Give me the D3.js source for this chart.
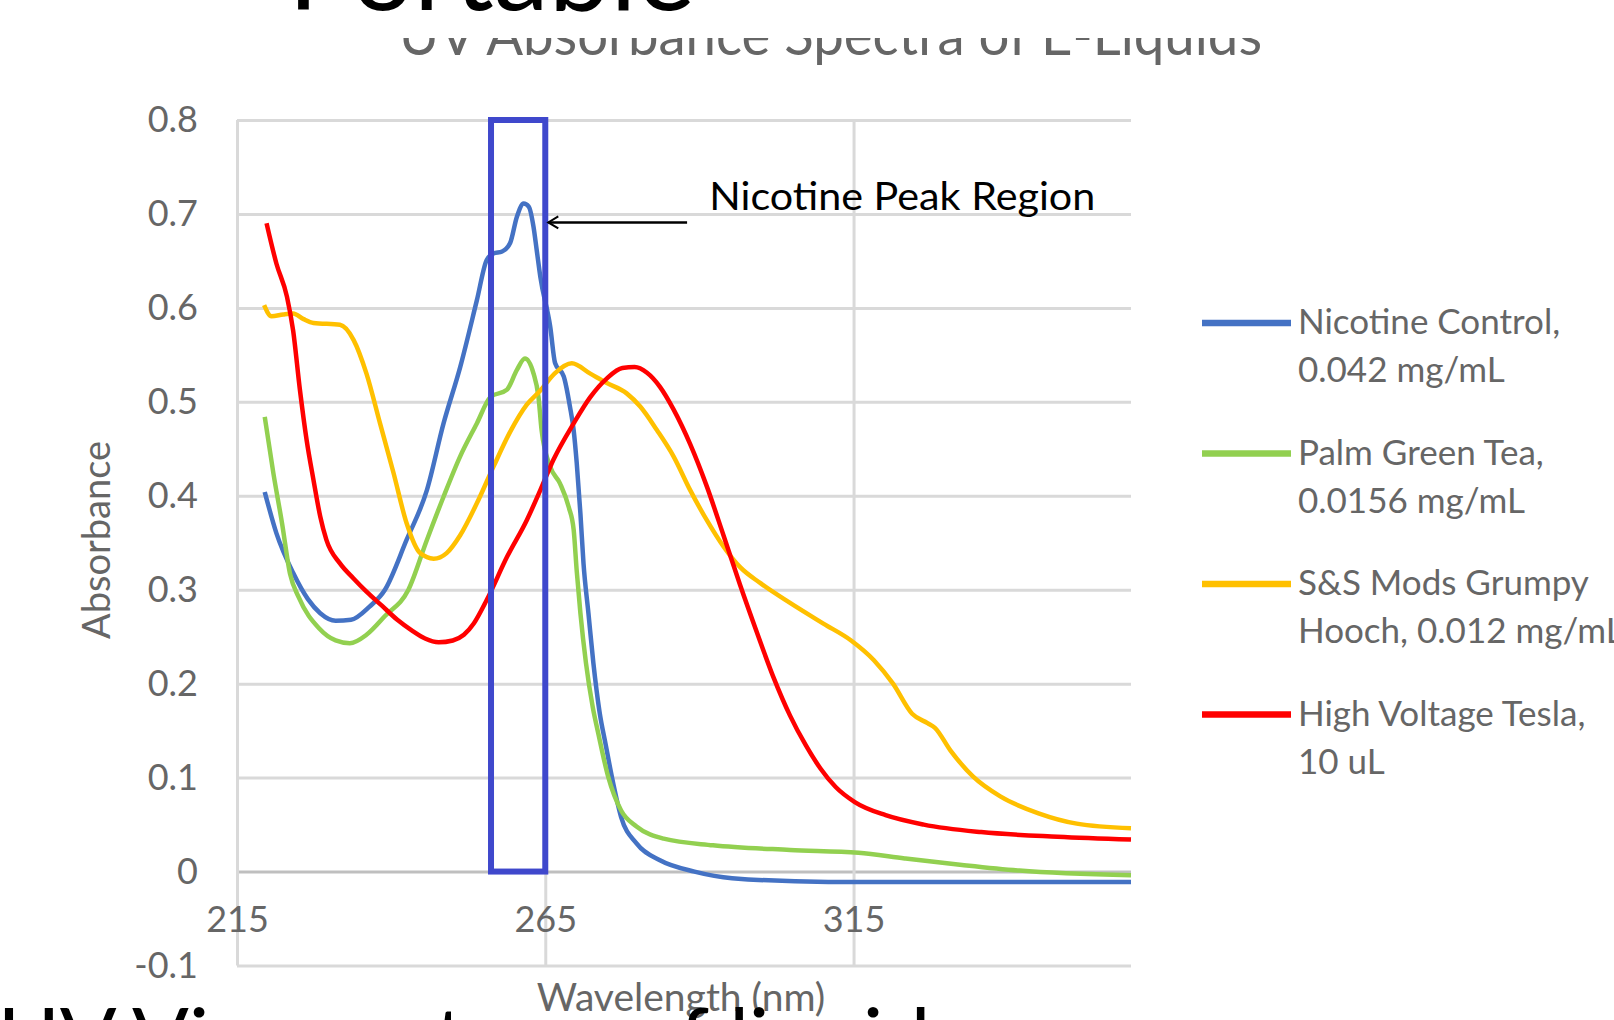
<!DOCTYPE html>
<html>
<head>
<meta charset="utf-8">
<script src="https://cdn.jsdelivr.net/npm/d3@7"></script>
<style>
  body { margin: 0; background: #fff; overflow: hidden; }
  svg { display: block; }
  text { font-family: Lato, "Open Sans", sans-serif; }
</style>
</head>
<body>
<svg id="chart" width="1614" height="1020"></svg>
<script>
// values: [wavelength nm, absorbance]
var nicotineControl = [
  [219.5, 0.404], [221.4, 0.360], [224.1, 0.318], [226.5, 0.290], [228.5, 0.275],
  [231.0, 0.267], [233.5, 0.268], [236.5, 0.282], [239.0, 0.300], [242.5, 0.353],
  [245.8, 0.406], [248.5, 0.477], [251.2, 0.537], [253.9, 0.608], [255.5, 0.651],
  [256.6, 0.658], [258.0, 0.660], [259.3, 0.669], [260.4, 0.697], [261.5, 0.711],
  [262.3, 0.708], [263.1, 0.686], [263.6, 0.662], [264.2, 0.633], [265.8, 0.580],
  [266.6, 0.541], [268.0, 0.527], [269.0, 0.495], [269.6, 0.470], [270.1, 0.435],
  [270.7, 0.381], [271.2, 0.328], [272.0, 0.275], [272.8, 0.222], [273.8, 0.170],
  [274.8, 0.135], [275.8, 0.101], [277.3, 0.058], [279.8, 0.030], [283.6, 0.012],
  [289.2, 0.000], [295.3, -0.007], [310.9, -0.011], [329.5, -0.011], [360.0, -0.011]
];
var palmGreenTea = [
  [219.5, 0.484], [220.9, 0.424], [222.3, 0.371], [223.6, 0.317], [225.0, 0.292],
  [228.3, 0.259], [231.0, 0.246], [233.3, 0.243], [236.0, 0.252], [239.0, 0.272],
  [242.8, 0.300], [245.8, 0.353], [248.5, 0.399], [251.2, 0.442], [253.9, 0.477],
  [256.1, 0.505], [258.8, 0.513], [260.4, 0.534], [261.7, 0.546], [263.1, 0.530],
  [263.9, 0.505], [264.4, 0.470], [265.8, 0.431], [267.4, 0.413], [268.8, 0.388],
  [269.6, 0.364], [270.1, 0.320], [270.7, 0.275], [271.6, 0.222], [272.7, 0.175],
  [273.6, 0.147], [275.2, 0.101], [277.3, 0.065], [279.8, 0.048], [284.2, 0.035],
  [292.2, 0.028], [304.7, 0.023], [315.8, 0.020], [323.3, 0.014], [332.6, 0.007],
  [341.9, 0.001], [360.0, -0.004]
];
var grumpyHooch = [
  [219.4, 0.603], [220.6, 0.591], [222.5, 0.593], [224.1, 0.594], [225.8, 0.588],
  [227.4, 0.584], [231.7, 0.582], [233.9, 0.566], [236.0, 0.530], [238.2, 0.477],
  [240.4, 0.424], [242.5, 0.371], [244.7, 0.339], [246.9, 0.333], [249.0, 0.339],
  [251.2, 0.358], [253.9, 0.392], [256.6, 0.431], [259.3, 0.468], [262.0, 0.497],
  [264.2, 0.512], [266.5, 0.530], [269.3, 0.541], [272.3, 0.530], [275.0, 0.520],
  [278.2, 0.509], [280.4, 0.495], [283.1, 0.470], [285.8, 0.442], [288.5, 0.406],
  [291.2, 0.374], [293.9, 0.346], [296.6, 0.324], [299.9, 0.307], [304.7, 0.286],
  [310.1, 0.264], [314.6, 0.246], [318.3, 0.225], [321.4, 0.200], [324.5, 0.168],
  [327.0, 0.158], [328.2, 0.153], [330.7, 0.129], [334.4, 0.101], [338.8, 0.080],
  [345.0, 0.062], [351.2, 0.051], [360.0, 0.046]
];
var highVoltageTesla = [
  [219.8, 0.690], [221.4, 0.647], [223.1, 0.612], [224.1, 0.576], [225.2, 0.513],
  [226.3, 0.459], [227.4, 0.417], [228.5, 0.378], [229.5, 0.353], [231.7, 0.328],
  [233.9, 0.312], [236.0, 0.298], [238.5, 0.283], [241.0, 0.268], [243.5, 0.256],
  [245.5, 0.248], [247.7, 0.244], [250.0, 0.246], [251.8, 0.252], [253.4, 0.264],
  [255.5, 0.289], [258.8, 0.335], [262.0, 0.374], [264.2, 0.406], [266.3, 0.438],
  [269.6, 0.477], [272.3, 0.505], [275.0, 0.525], [277.5, 0.536], [279.5, 0.537],
  [281.5, 0.531], [283.6, 0.516], [285.8, 0.492], [288.5, 0.455], [291.2, 0.410],
  [293.9, 0.358], [296.6, 0.305], [299.3, 0.255], [302.0, 0.207], [304.7, 0.166],
  [307.2, 0.135], [309.6, 0.110], [312.1, 0.090], [315.2, 0.074], [320.2, 0.060],
  [326.4, 0.050], [335.7, 0.042], [348.1, 0.037], [360.0, 0.034]
];

var seriesData = [nicotineControl, palmGreenTea, grumpyHooch, highVoltageTesla];
var seriesColors = ["#4472C4", "#92D050", "#FFC000", "#FF0000"];
var legendLabels = [
  ["Nicotine Control,", "0.042 mg/mL"],
  ["Palm Green Tea,", "0.0156 mg/mL"],
  ["S&S Mods Grumpy", "Hooch, 0.012 mg/mL"],
  ["High Voltage Tesla,", "10 uL"]
];
var xTicks = [215, 265, 315];
var yTicks = [-0.1, 0, 0.1, 0.2, 0.3, 0.4, 0.5, 0.6, 0.7, 0.8];
var yTickLabels = ["-0.1", "0", "0.1", "0.2", "0.3", "0.4", "0.5", "0.6", "0.7", "0.8"];
var peakRegion = [256.2, 265.0]; // boxed wavelength range

var svg = d3.select("#chart");

var x = d3.scaleLinear().domain([215, 360]).range([237, 1131]);
var y = d3.scaleLinear().domain([-0.1, 0.8]).range([965.5, 120]);
var plotW = x.range()[1] - x.range()[0];
var plotH = y.range()[0] - y.range()[1];

// horizontal grid + y labels
var gy = svg.append("g")
    .attr("transform", "translate(" + x(215) + ",0)")
    .call(d3.axisLeft(y).tickValues(yTicks).tickSize(-plotW).tickPadding(39)
      .tickFormat(function(d, i){ return yTickLabels[i]; }));
gy.select(".domain").remove();
gy.selectAll("line")
  .attr("stroke", function(d){ return d === 0 ? "#bfbfbf" : "#d9d9d9"; })
  .attr("stroke-width", 3);
gy.selectAll("text").attr("fill", "#666").attr("font-size", 36)
  .style("font-family", "Lato, 'Open Sans', sans-serif");

// vertical grid
var gx = svg.append("g")
    .attr("transform", "translate(0," + y(-0.1) + ")")
    .call(d3.axisBottom(x).tickValues(xTicks).tickSize(-plotH).tickFormat(""));
gx.select(".domain").remove();
gx.selectAll("line").attr("stroke", "#d9d9d9").attr("stroke-width", 3);

// x labels under the zero line
var gxl = svg.append("g")
    .attr("transform", "translate(0," + y(0) + ")")
    .call(d3.axisBottom(x).tickValues(xTicks).tickSize(0).tickPadding(35));
gxl.select(".domain").remove();
gxl.selectAll("text").attr("fill", "#666").attr("font-size", 36)
  .style("font-family", "Lato, 'Open Sans', sans-serif");

// curves
var line = d3.line()
    .x(function(d){ return x(d[0]); })
    .y(function(d){ return y(d[1]); })
    .curve(d3.curveMonotoneX);

svg.selectAll("path.series")
  .data(seriesData)
  .join("path")
    .attr("class", "series")
    .attr("fill", "none")
    .attr("stroke", function(d, i){ return seriesColors[i]; })
    .attr("stroke-width", 4.5)
    .attr("stroke-linejoin", "round")
    .attr("d", line);

// nicotine peak box
svg.append("rect")
  .attr("x", x(peakRegion[0]))
  .attr("y", y(0.8))
  .attr("width", x(peakRegion[1]) - x(peakRegion[0]))
  .attr("height", y(0) - y(0.8))
  .attr("fill", "none")
  .attr("stroke", "#3F48CC")
  .attr("stroke-width", 6);

// arrow + annotation
var ay = y(0.691);
var tipX = x(peakRegion[1]) + 3;
svg.append("path")
  .attr("d", "M" + x(288) + "," + ay + "L" + tipX + "," + ay)
  .attr("stroke", "#000").attr("stroke-width", 2.5).attr("fill", "none");
svg.append("path")
  .attr("d", "M" + (tipX + 10) + "," + (ay - 6) + "L" + tipX + "," + ay + "L" + (tipX + 10) + "," + (ay + 6))
  .attr("stroke", "#000").attr("stroke-width", 2).attr("fill", "none");
svg.append("text")
  .attr("x", x(291.6)).attr("y", y(0.704))
  .attr("font-size", 39).attr("fill", "#000")
  .attr("textLength", 386).attr("lengthAdjust", "spacingAndGlyphs")
  .text("Nicotine Peak Region");

// axis titles
svg.append("text")
  .attr("transform", "translate(110,540) rotate(-90)")
  .attr("text-anchor", "middle")
  .attr("font-size", 38).attr("fill", "#666")
  .text("Absorbance");
svg.append("text")
  .attr("x", 681).attr("y", 1011)
  .attr("text-anchor", "middle")
  .attr("font-size", 39).attr("fill", "#666")
  .text("Wavelength (nm)");

// legend
var legend = svg.selectAll("g.legend")
  .data(legendLabels)
  .join("g")
    .attr("class", "legend")
    .attr("transform", function(d, i){ return "translate(1202," + (323 + i * 130.5) + ")"; });
legend.append("line")
  .attr("x1", 0).attr("x2", 89)
  .attr("stroke", function(d, i){ return seriesColors[i]; })
  .attr("stroke-width", 6.5);
legend.selectAll("text")
  .data(function(d){ return d; })
  .join("text")
    .attr("x", 96)
    .attr("y", function(d, j){ return 11 + j * 48; })
    .attr("font-size", 35)
    .attr("fill", "#666")
    .text(function(d){ return d; });

// chart title, partly hidden by the slide title box
svg.append("text")
  .attr("x", 399).attr("y", 55)
  .attr("font-size", 56).attr("fill", "#666")
  .attr("textLength", 863).attr("lengthAdjust", "spacingAndGlyphs")
  .text("UV Absorbance Spectra of E-Liquids");
svg.append("rect").attr("x", 0).attr("y", 0).attr("width", 1614).attr("height", 38).attr("fill", "#fff");
svg.append("text")
  .attr("x", 288).attr("y", 10)
  .attr("font-size", 110).attr("fill", "#000")
  .attr("textLength", 407).attr("lengthAdjust", "spacingAndGlyphs")
  .text("Portable");

// slide text running off the bottom edge
svg.append("text")
  .attr("x", -2).attr("y", 1068)
  .attr("font-size", 84).attr("fill", "#000")
  .text("UV Vis spectrum of liquids");
</script>
</body>
</html>
